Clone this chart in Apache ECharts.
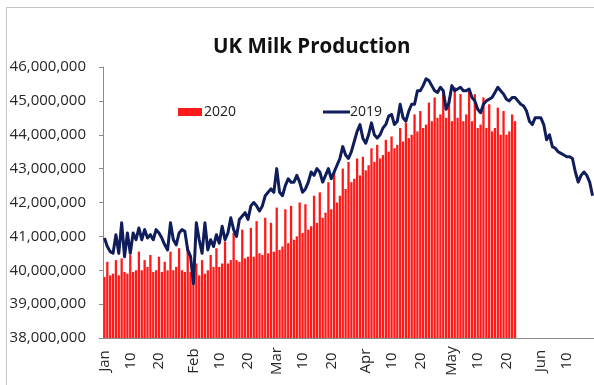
<!DOCTYPE html>
<html>
<head>
<meta charset="utf-8">
<title>UK Milk Production</title>
<script src="https://cdn.jsdelivr.net/npm/echarts@6/dist/echarts.min.js"></script>
<style>
  html, body { margin: 0; padding: 0; background: #ffffff; }
  #chart { width: 594px; height: 385px; }
</style>
</head>
<body>
<div id="chart"></div>
<script>
// Daily milk deliveries, millions of litres, indexed by day of year from 1 Jan.
const milk2020 = [
  // Jan
  39.8, 40.25, 39.85, 39.9, 40.3, 39.85, 40.35, 39.95, 39.9, 40.45, 39.95, 40.0, 40.55, 40.0, 40.3, 40.1,
  40.45, 39.95, 40.0, 40.4, 39.95, 40.25, 40.0, 40.55, 40.0, 40.1, 40.65, 40.0, 39.95, 40.7, 39.95,
  // Feb
  39.7, 40.2, 39.85, 40.3, 39.9, 40.0, 40.45, 40.1, 40.65, 40.1, 40.2, 40.85, 40.2, 40.3, 41.1, 40.3,
  40.25, 41.2, 40.35, 40.4, 41.25, 40.4, 41.45, 40.5, 40.45, 41.55, 40.5, 41.4, 40.55,
  // Mar
  41.85, 40.6, 40.7, 41.8, 40.8, 41.9, 40.9, 41.0, 42.0, 41.1, 41.95, 41.2, 41.3, 42.2, 41.4, 42.3,
  41.55, 41.7, 42.6, 41.8, 42.9, 42.0, 42.2, 43.0, 42.4, 43.2, 42.6, 42.7, 43.3, 42.8, 43.35,
  // Apr
  42.95, 43.1, 43.6, 43.2, 43.7, 43.3, 43.4, 43.85, 43.5, 43.95, 43.6, 43.7, 44.2, 43.8, 44.35,
  43.9, 44.0, 44.6, 44.1, 44.7, 44.2, 44.3, 44.95, 44.4, 45.1, 44.5, 44.6, 45.2, 44.5, 45.1,
  // May
  44.4, 45.4, 44.5, 45.2, 44.4, 44.6, 45.3, 44.4, 45.2, 44.2, 44.3, 45.1, 44.2, 44.9, 44.1, 44.2,
  44.8, 44.0, 44.7, 44.0, 44.1, 44.6, 44.4
];

const milk2019 = [
  // Jan
  40.95, 40.7, 40.55, 40.5, 41.05, 40.5, 41.4, 40.4, 41.1, 40.5, 41.1, 40.9, 41.25, 40.9, 41.2, 40.95,
  41.05, 40.9, 41.2, 41.1, 40.95, 40.75, 40.6, 41.4, 40.9, 40.75, 41.1, 41.2, 41.15, 40.6, 40.4,
  // Feb
  39.6, 41.4, 40.9, 40.5, 41.4, 40.6, 40.9, 40.7, 41.05, 40.8, 41.3, 40.9, 41.1, 41.55, 41.2, 41.0,
  41.5, 41.6, 41.7, 41.5, 41.9, 42.0, 41.9, 41.75, 41.9, 42.2, 42.3, 42.4, 42.3,
  // Mar
  43.0, 42.3, 42.2, 42.5, 42.7, 42.6, 42.6, 42.8, 42.6, 42.3, 42.4, 42.6, 42.9, 42.8, 43.0, 42.9,
  42.6, 42.8, 43.0, 42.7, 42.9, 43.1, 43.3, 43.65, 43.4, 43.3, 43.5, 43.8, 44.1, 44.3, 43.9,
  // Apr
  43.75, 44.0, 44.35, 44.0, 43.9, 44.0, 44.2, 44.3, 44.55, 44.6, 44.3, 44.4, 44.9, 44.5, 44.4,
  44.7, 44.9, 44.9, 45.3, 45.3, 45.45, 45.65, 45.6, 45.45, 45.3, 45.25, 45.4, 45.3, 44.75, 44.95,
  // May
  45.45, 45.3, 45.35, 45.4, 45.3, 45.3, 45.35, 45.1, 45.0, 44.75, 44.65, 44.9, 45.0, 45.05, 45.1, 45.25,
  45.4, 45.3, 45.2, 45.05, 45.0, 45.1, 45.1, 45.0, 44.9, 44.85, 44.7, 44.4, 44.3, 44.5, 44.5,
  // Jun
  44.5, 44.3, 43.85, 44.0, 43.65, 43.6, 43.5, 43.45, 43.4, 43.35, 43.35, 43.3, 42.9, 42.6, 42.8,
  42.9, 42.8, 42.6, 42.2
];

// Day-of-year categories (a leap-year calendar, 1 Jan to 19 Jun).
const monthNames = ['Jan', 'Feb', 'Mar', 'Apr', 'May', 'Jun'];
const monthLengths = [31, 29, 31, 30, 31, 19];
const days = [];
monthNames.forEach((m, mi) => {
  for (let d = 1; d <= monthLengths[mi]; d++) days.push(m + ' ' + d);
});

// Which days get an axis label, and what it reads.
const tickDays = ['Jan 1', 'Jan 10', 'Jan 20', 'Feb 1', 'Feb 10', 'Feb 20', 'Mar 1', 'Mar 10', 'Mar 20',
                  'Apr 1', 'Apr 10', 'Apr 20', 'May 1', 'May 10', 'May 20', 'Jun 1', 'Jun 10'];
const tickLabels = ['Jan', '10', '20', 'Feb', '10', '20', 'Mar', '10', '20',
                    'Apr', '10', '20', 'May', '10', '20', 'Jun', '10'];

const yTicks = { min: 38, max: 46, step: 1 };

const FONT = '"Open Sans", sans-serif';
const tickMap = {};
tickDays.forEach((d, i) => { tickMap[d] = tickLabels[i]; });

const chart = echarts.init(document.getElementById('chart'), null, { renderer: 'canvas' });
chart.setOption({
  animation: false,
  backgroundColor: '#ffffff',
  title: {
    text: 'UK Milk Production',
    left: 208,
    top: 32,
    textStyle: { fontFamily: FONT, fontSize: 20.5, fontWeight: 'bold', color: '#111111' }
  },
  graphic: [{
    type: 'rect',
    silent: true,
    shape: { x: 6.5, y: 7.5, width: 700, height: 500 },
    style: { fill: 'none', stroke: '#c4c4c4', lineWidth: 1 }
  }],
  legend: [{
    data: [{ name: '2020', icon: 'rect' }],
    left: 173,
    top: 100,
    itemWidth: 24,
    itemHeight: 8,
    itemGap: 4,
    textStyle: { fontFamily: FONT, fontSize: 14, color: '#1a1a1a', padding: [0, 0, 0, -3] }
  }, {
    data: [{ name: '2019', icon: 'rect' }],
    left: 318,
    top: 100,
    itemWidth: 27,
    itemHeight: 3,
    textStyle: { fontFamily: FONT, fontSize: 14, color: '#1a1a1a', padding: [0, 0, 0, -5] }
  }],
  grid: { left: 103, right: 0, top: 67, bottom: 47, containLabel: false },
  xAxis: {
    type: 'category',
    data: days,
    boundaryGap: true,
    axisLine: { show: true, lineStyle: { color: '#8c8c8c', width: 1 } },
    axisTick: { show: false },
    axisLabel: {
      rotate: 90,
      align: 'center',
      verticalAlign: 'middle',
      margin: 23,
      fontFamily: FONT,
      fontSize: 15,
      color: '#262626',
      interval: (idx, val) => tickMap.hasOwnProperty(val),
      formatter: (val) => tickMap[val] || ''
    },
    splitLine: { show: false }
  },
  yAxis: {
    type: 'value',
    min: yTicks.min,
    max: yTicks.max,
    interval: yTicks.step,
    axisLine: { show: true, lineStyle: { color: '#8c8c8c', width: 1 } },
    axisTick: { show: true, inside: false, length: 4, lineStyle: { color: '#8c8c8c' } },
    axisLabel: {
      margin: 17,
      fontFamily: FONT,
      fontSize: 15,
      color: '#262626',
      formatter: (v) => Math.round(v * 1e6).toLocaleString('en-US')
    },
    splitLine: { show: false }
  },
  series: [{
    name: '2020',
    type: 'bar',
    data: milk2020,
    barCategoryGap: '20%',
    itemStyle: { color: '#ff1a1a' }
  }, {
    name: '2019',
    type: 'line',
    data: milk2019,
    symbol: 'none',
    smooth: false,
    lineStyle: { color: '#0f1d5a', width: 3, join: 'round' },
    itemStyle: { color: '#0f1d5a' }
  }]
});
</script>
</body>
</html>
